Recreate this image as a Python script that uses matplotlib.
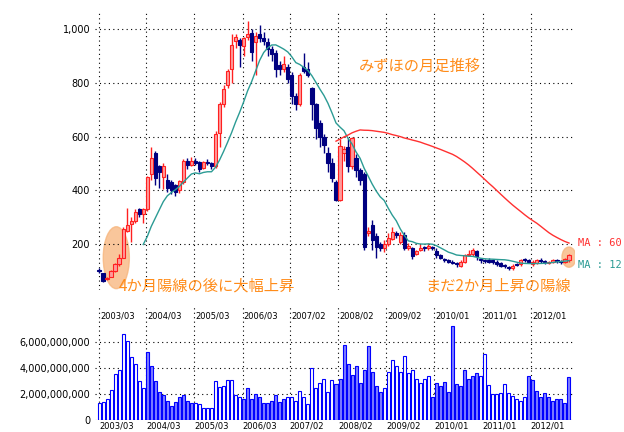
import numpy as np
import pandas as pd
import matplotlib
matplotlib.use("Agg")
import matplotlib.pyplot as plt
from matplotlib.patches import Ellipse, Rectangle

plt.rcParams['font.family'] = ['Noto Sans CJK JP', 'DejaVu Sans']

# monthly candles (yen)
opens = [105, 92, 70, 80, 100, 125, 150, 250, 275, 285, 330, 312, 330, 460, 540, 490, 450, 440, 430, 420,
         400, 430, 510, 495, 508, 505, 485, 505, 500, 490, 615, 720, 790, 850, 955, 960, 935, 970, 985, 950,
         980, 965, 950, 925, 910, 865, 850, 860, 830, 750, 720, 860, 850, 780, 720, 650, 600, 540, 500, 430,
         365, 540, 560, 490, 520, 475, 460, 240, 270, 230, 200, 185, 200, 220, 240, 210, 235, 185, 185, 165,
         180, 190, 185, 190, 175, 160, 145, 140, 135, 130, 120, 135, 160, 165, 175, 145, 140, 140, 140, 135,
         130, 120, 115, 110, 125, 125, 145, 140, 125, 130, 140, 135, 130, 135, 140, 138, 133, 140]
closes = [100, 65, 75, 100, 125, 150, 255, 270, 285, 320, 312, 330, 450, 520, 445, 470, 490, 410, 400, 395,
          435, 510, 495, 510, 500, 480, 505, 500, 490, 610, 720, 775, 845, 940, 970, 940, 965, 980, 915, 975,
          965, 955, 925, 905, 850, 850, 870, 815, 750, 720, 830, 845, 830, 720, 630, 600, 570, 500, 445, 365,
          565, 555, 490, 595, 475, 440, 190, 250, 215, 190, 185, 200, 225, 245, 235, 235, 185, 195, 155, 175,
          185, 185, 195, 185, 160, 150, 140, 135, 130, 125, 135, 160, 165, 180, 155, 140, 138, 135, 135, 125,
          120, 118, 110, 120, 123, 140, 140, 135, 135, 140, 137, 133, 134, 140, 136, 133, 145, 160]
highs = [110, 95, 80, 105, 130, 165, 265, 335, 300, 330, 335, 335, 455, 560, 545, 495, 500, 460, 440, 425,
         440, 515, 520, 525, 520, 510, 510, 515, 505, 620, 730, 790, 850, 980, 980, 965, 970, 1030, 1000, 990,
         1015, 990, 965, 935, 920, 880, 900, 870, 840, 760, 835, 910, 875, 785, 725, 660, 610, 560, 520, 440,
         590, 565, 595, 600, 535, 485, 470, 265, 290, 240, 210, 215, 240, 265, 250, 245, 245, 205, 190, 180,
         200, 195, 205, 195, 185, 165, 150, 145, 140, 135, 140, 165, 180, 185, 180, 150, 145, 148, 145, 140,
         135, 125, 118, 125, 130, 145, 150, 145, 140, 145, 148, 140, 138, 145, 145, 142, 150, 165]
lows = [95, 60, 68, 78, 98, 120, 148, 245, 210, 280, 300, 280, 325, 440, 420, 410, 405, 395, 385, 380,
        390, 425, 480, 490, 495, 470, 480, 495, 480, 485, 560, 710, 780, 800, 930, 860, 900, 960, 880, 830,
        950, 940, 900, 880, 820, 830, 840, 800, 720, 700, 715, 835, 820, 660, 590, 560, 540, 470, 430, 360,
        360, 510, 470, 480, 450, 420, 180, 230, 180, 150, 175, 170, 195, 215, 225, 200, 180, 180, 145, 160,
        175, 175, 180, 180, 150, 145, 135, 130, 125, 115, 115, 130, 155, 155, 140, 130, 130, 130, 128, 120,
        115, 112, 105, 105, 118, 120, 135, 130, 120, 125, 132, 128, 126, 130, 130, 128, 130, 135]
# monthly volume (billions of shares)
volume = [1.35, 1.4, 1.6, 2.35, 3.55, 3.9, 6.65, 6.1, 4.85, 4.35, 3.0, 2.5, 5.25, 4.2, 3.05, 2.2, 1.9, 1.5, 1.1, 1.4,
          1.75, 1.9, 1.5, 1.35, 1.35, 1.2, 0.9, 0.95, 0.95, 3.05, 2.55, 2.65, 3.1, 3.1, 1.9, 1.75, 1.65, 2.45, 1.6, 2.0,
          1.75, 1.3, 1.3, 1.45, 1.95, 1.4, 1.6, 1.8, 1.8, 1.45, 2.25, 1.75, 1.2, 4.05, 2.5, 2.9, 3.2, 2.2, 3.1, 2.8,
          3.2, 5.8, 4.35, 3.5, 4.2, 2.9, 3.85, 5.7, 3.75, 2.65, 2.15, 2.5, 3.7, 4.65, 4.2, 3.75, 4.95, 3.65, 3.85, 3.2,
          2.9, 3.2, 3.4, 1.75, 2.9, 2.6, 2.95, 2.2, 7.3, 2.8, 2.65, 3.85, 3.2, 3.4, 3.6, 3.4, 5.1, 2.7, 2.0, 2.0,
          2.1, 2.8, 2.1, 1.85, 1.65, 1.5, 1.8, 3.4, 3.1, 2.25, 1.8, 2.1, 1.8, 1.5, 1.6, 1.65, 1.35, 3.35]
date_labels = ['2003/03', '2004/03', '2005/03', '2006/03', '2007/02', '2008/02',
               '2009/02', '2010/01', '2011/01', '2012/01']
date_pos = [0, 11.75, 23.75, 35.75, 47.5, 59.5, 71.5, 83.5, 95.5, 107.5]

n = len(closes)
x = np.arange(n)
ma12 = pd.Series(closes).rolling(12).mean()
ma60 = pd.Series(closes).rolling(60).mean()

W, H = 624, 432
fig = plt.figure(figsize=(6.24, 4.32), dpi=100)
ax = fig.add_axes([95 / W, 1 - 290 / H, 480 / W, 280 / H])
axv = fig.add_axes([95 / W, 1 - 420 / H, 480 / W, 115 / H])

xlim = (-1, 118.5)
for a in (ax, axv):
    a.set_xlim(*xlim)
    for s in a.spines.values():
        s.set_visible(False)
    for p in date_pos:
        a.axvline(p, color='black', lw=0.8, ls=(0, (1, 3)), zorder=0)
    a.tick_params(length=0, labelsize=7)

# candles
for i in x:
    up = closes[i] >= opens[i]
    ec = '#ff2020' if up else '#000080'
    fc = '#ff9a9a' if up else '#000080'
    ax.vlines(i, lows[i], highs[i], color=ec, lw=1, zorder=2)
    lo = min(opens[i], closes[i])
    h = max(abs(closes[i] - opens[i]), 4)
    ax.add_patch(Rectangle((i - 0.4, lo), 0.8, h, facecolor=fc, edgecolor=ec, lw=0.8, zorder=3))

ax.plot(x, ma12, color='#2b9b94', lw=1, zorder=4)
ax.plot(x, ma60, color='#ff3030', lw=1, zorder=4)

ax.set_ylim(30, 1070)
ax.set_yticks([200, 400, 600, 800, 1000])
ax.set_yticklabels(['200', '400', '600', '800', '1,000'], family='DejaVu Sans')
ax.yaxis.grid(True, color='black', lw=0.8, ls=(0, (1, 3)))
ax.set_xticks([])

ax.add_patch(Ellipse((4.3, 150), 6.5, 230, color='#f7b47a', alpha=0.75, zorder=1))
ax.add_patch(Ellipse((117, 152), 3.5, 75, color='#f7b47a', alpha=0.75, zorder=1))

orange = '#ff8c1a'
ax.text(80, 860, 'みずほの月足推移', color=orange, fontsize=11, ha='center', va='center')
ax.text(4.8, 45, '4か月陽線の後に大幅上昇', color=orange, fontsize=11, ha='left', va='center')
ax.text(117.5, 45, 'まだ2か月上昇の陽線', color=orange, fontsize=11, ha='right', va='center')
fig.text(578 / W, 1 - 243 / H, 'MA : 60', color='#ff3030', fontsize=7.5, family='DejaVu Sans Mono', va='center')
fig.text(578 / W, 1 - 265 / H, 'MA : 12', color='#2b9b94', fontsize=7.5, family='DejaVu Sans Mono', va='center')

# volume bars, fill alternates by period
bounds = date_pos + [200]
fills = []
for i in x:
    seg = max(k for k, p in enumerate(bounds) if p <= i + 0.5)
    fills.append('white' if seg % 2 == 0 else '#8080ff')
axv.bar(x, volume, width=0.75, color=fills, edgecolor='#0000ff', lw=0.8, zorder=2)
axv.set_ylim(0, 8.9)
axv.set_yticks([0, 2, 4, 6])
axv.set_yticklabels(['0', '2,000,000,000', '4,000,000,000', '6,000,000,000'], family='DejaVu Sans')
axv.yaxis.grid(True, color='black', lw=0.8, ls=(0, (1, 3)))
axv.set_xticks(date_pos)
axv.set_xticklabels(date_labels, fontsize=6, family='DejaVu Sans', ha='left')
axv.tick_params(axis='x', pad=1)
for p, lab in zip(date_pos, date_labels):
    axv.text(p + 0.3, 8.4, lab, fontsize=6, family='DejaVu Sans', va='top')

fig.savefig('out.png', dpi=100)
